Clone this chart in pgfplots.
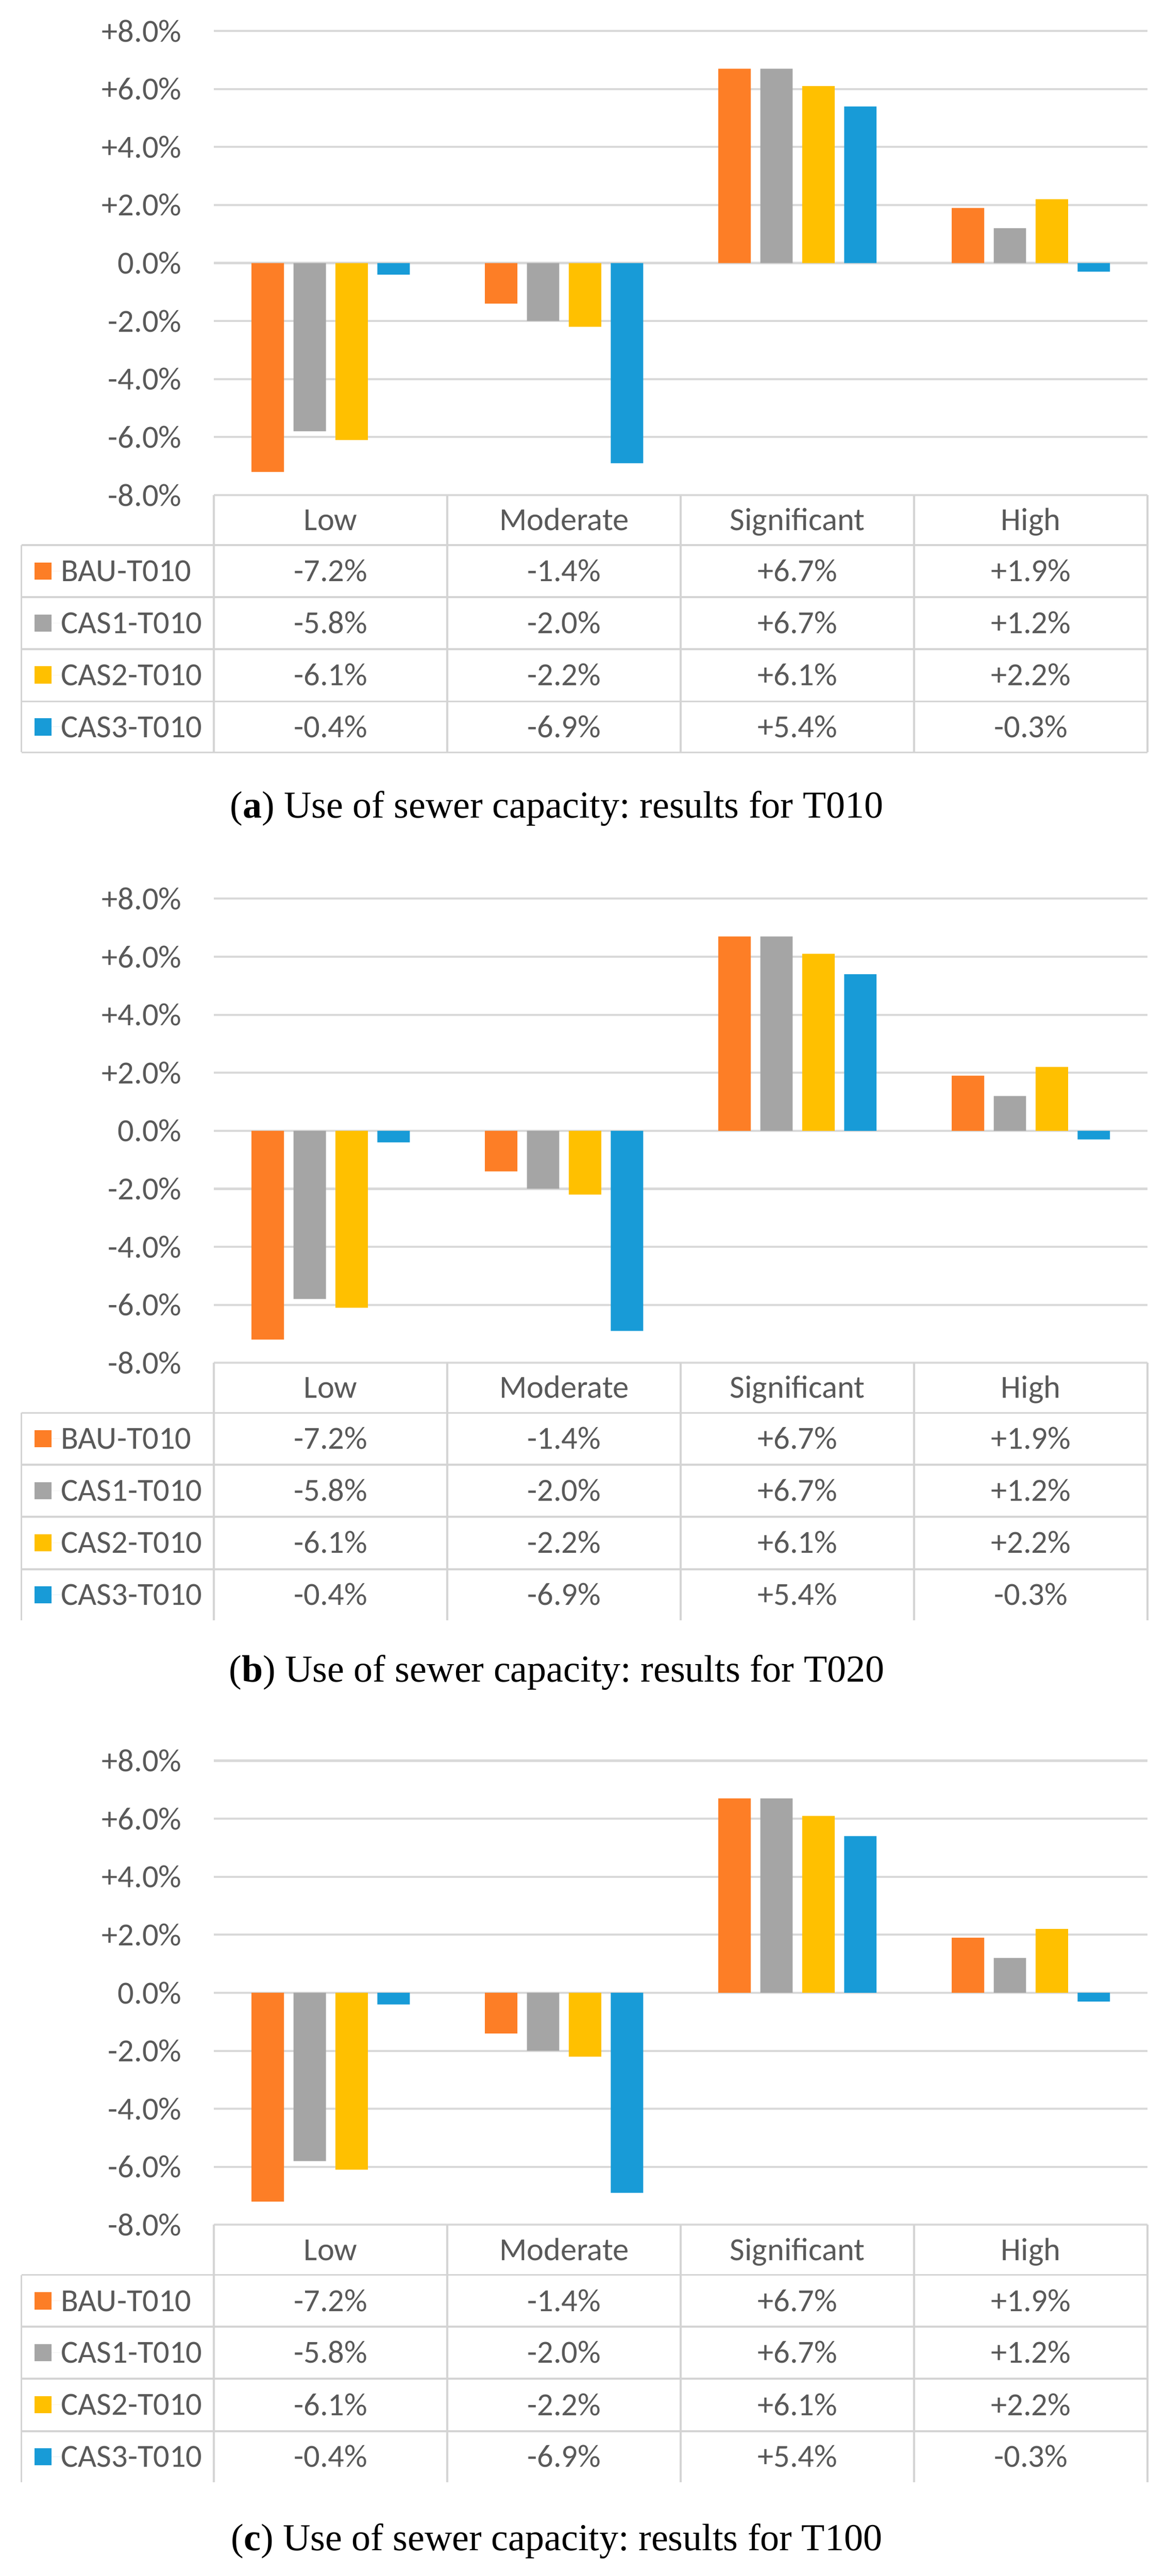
\documentclass[border=0pt]{standalone}
\usepackage{pgfplots}
\pgfplotsset{compat=1.18}
\usepackage{pgfplotstable}
\usepackage{fontspec}
\setmainfont{Carlito}
\newfontfamily\capfont{Liberation Serif}
\definecolor{cbau}{HTML}{FD7E26}
\definecolor{ccasa}{HTML}{A5A5A5}
\definecolor{ccasb}{HTML}{FFC000}
\definecolor{ccasc}{HTML}{189BD7}
\definecolor{gridc}{HTML}{D9D9D9}
\definecolor{tabc}{HTML}{D4D4D4}
\definecolor{txt}{HTML}{595959}
\newcommand\cf{\fontsize{13.5}{16}\selectfont}
\frenchspacing

\pgfplotstableread{
x bau cas1 cas2 cas3
0 -7.2 -5.8 -6.1 -0.4
1 -1.4 -2.0 -2.2 -6.9
2 6.7 6.7 6.1 5.4
3 1.9 1.2 2.2 -0.3
}\datatab

\pgfplotsset{panel/.style={
  width=391.8pt, height=194.8pt, scale only axis,
  anchor=north west,
  xmin=-0.5, xmax=3.5, ymin=-8, ymax=8,
  xtick=\empty,
  ytick={-8,-6,-4,-2,0,2,4,6,8},
  yticklabels={-8.0\%,-6.0\%,-4.0\%,-2.0\%,0.0\%,+2.0\%,+4.0\%,+6.0\%,+8.0\%},
  yticklabel style={font=\cf, text=txt, inner sep=0pt, xshift=-13.4pt},
  major tick length=0pt,
  axis line style={draw=none},
  ymajorgrids, grid style={gridc, line width=0.9pt},
  clip=false,
  legend image code/.code={\draw[##1,draw=none] (0pt,-3.6pt) rectangle (7.2pt,3.6pt); \path (0pt,0pt) -- (11.2pt,0pt);},
  legend cell align=left,
  legend style={at={(rel axis cs:0,0)}, anchor=north west, xshift=-75.4pt, yshift=-21pt,
    draw=none, fill=none, inner sep=0pt, outer sep=0pt, row sep=0pt, column sep=0pt,
    font=\cf, text=txt, nodes={inner sep=0pt, text height=15.25pt, text depth=6.55pt}},
}}

\newcommand{\tabtext}[3]{\node[font=\cf, text=txt, anchor=base, yshift=-4.35pt] at (axis cs:#1,#2) {#3};}

\newcommand{\panel}[2]{%
\begin{axis}[panel, at={(89.8pt,#1)}]
\addplot[ybar, bar width=13.6pt, bar shift=-26.4pt, fill=cbau, draw=none] table[x=x,y=bau]{\datatab};
\addplot[ybar, bar width=13.6pt, bar shift=-8.8pt, fill=ccasa, draw=none] table[x=x,y=cas1]{\datatab};
\addplot[ybar, bar width=13.6pt, bar shift=8.8pt, fill=ccasb, draw=none] table[x=x,y=cas2]{\datatab};
\addplot[ybar, bar width=13.6pt, bar shift=26.4pt, fill=ccasc, draw=none] table[x=x,y=cas3]{\datatab};
\legend{BAU-T010, CAS1-T010, CAS2-T010, CAS3-T010}
% table grid
\draw[tabc, line width=0.8pt] (axis cs:-1.325,-9.725) -- (axis cs:3.5,-9.725);
\draw[tabc, line width=0.8pt] (axis cs:-1.325,-11.515) -- (axis cs:3.5,-11.515);
\draw[tabc, line width=0.8pt] (axis cs:-1.325,-13.306) -- (axis cs:3.5,-13.306);
\draw[tabc, line width=0.8pt] (axis cs:-1.325,-15.113) -- (axis cs:3.5,-15.113);
\draw[tabc, line width=0.8pt] (axis cs:-1.325,-9.725) -- (axis cs:-1.325,-16.87);
\draw[tabc, line width=0.8pt] (axis cs:-0.5,-8) -- (axis cs:-0.5,-16.87);
\draw[tabc, line width=0.8pt] (axis cs:0.5,-8) -- (axis cs:0.5,-16.87);
\draw[tabc, line width=0.8pt] (axis cs:1.5,-8) -- (axis cs:1.5,-16.87);
\draw[tabc, line width=0.8pt] (axis cs:2.5,-8) -- (axis cs:2.5,-16.87);
\draw[tabc, line width=0.8pt] (axis cs:3.5,-8) -- (axis cs:3.5,-16.87);
#2
% header
\tabtext{0}{-8.862}{Low}
\tabtext{1}{-8.862}{Moderate}
\tabtext{2}{-8.862}{Significant}
\tabtext{3}{-8.862}{High}
% rows
\tabtext{0}{-10.620}{-7.2\%}
\tabtext{1}{-10.620}{-1.4\%}
\tabtext{2}{-10.620}{+6.7\%}
\tabtext{3}{-10.620}{+1.9\%}
\tabtext{0}{-12.411}{-5.8\%}
\tabtext{1}{-12.411}{-2.0\%}
\tabtext{2}{-12.411}{+6.7\%}
\tabtext{3}{-12.411}{+1.2\%}
\tabtext{0}{-14.209}{-6.1\%}
\tabtext{1}{-14.209}{-2.2\%}
\tabtext{2}{-14.209}{+6.1\%}
\tabtext{3}{-14.209}{+2.2\%}
\tabtext{0}{-15.992}{-0.4\%}
\tabtext{1}{-15.992}{-6.9\%}
\tabtext{2}{-15.992}{+5.4\%}
\tabtext{3}{-15.992}{-0.3\%}
\end{axis}}

\begin{document}
\begin{tikzpicture}
\useasboundingbox (0pt,0pt) rectangle (488.8pt,-1081.2pt);
\panel{-13pt}{\draw[tabc, line width=0.8pt] (axis cs:-1.325,-16.87) -- (axis cs:3.5,-16.87);}
\node[anchor=base, font={\capfont\fontsize{16}{19}\selectfont}] at (233.6pt,-343.2pt) {(\textbf{a}) Use of sewer capacity: results for T010};
\panel{-377.2pt}{}
\node[anchor=base, font={\capfont\fontsize{16}{19}\selectfont}] at (233.6pt,-706pt) {(\textbf{b}) Use of sewer capacity: results for T020};
\panel{-739pt}{}
\node[anchor=base, font={\capfont\fontsize{16}{19}\selectfont}] at (233.6pt,-1070.4pt) {(\textbf{c}) Use of sewer capacity: results for T100};
\end{tikzpicture}
\end{document}
